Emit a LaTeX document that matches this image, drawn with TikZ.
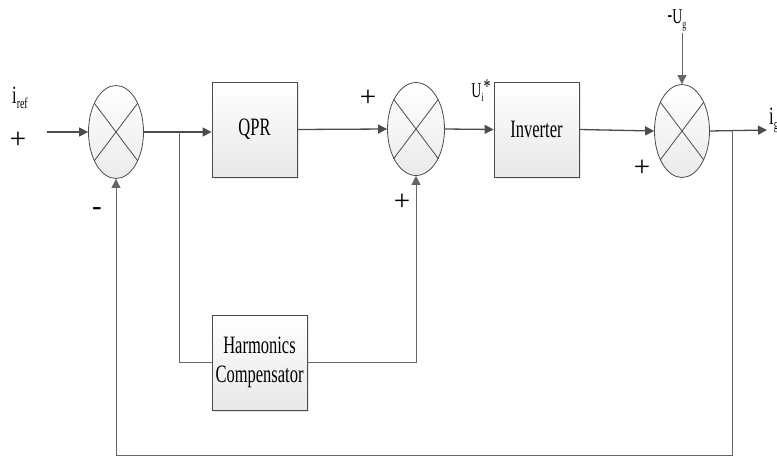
\documentclass[tikz,border=0pt]{standalone}
\usepackage{fontspec}
\setmainfont{Liberation Serif}
\usepackage{graphicx}
\usetikzlibrary{arrows.meta,shapes.geometric,shadows}
\newcommand\nrw[1]{\scalebox{0.66}[1]{#1}}
\begin{document}
\begin{tikzpicture}[x=1pt,y=-1pt,
  line/.style={draw=black!70, line width=1.3pt},
  arr/.style={line, -{Triangle[length=9pt,width=9pt]}},
  thinline/.style={draw=black!60, line width=0.9pt},
  thinarr/.style={thinline, -{Triangle[length=9pt,width=9pt]}},
  sumnode/.style={ellipse, draw=black!70, line width=0.8pt, top color=white, bottom color=black!8, inner sep=0pt, minimum width=55pt, minimum height=93pt},
  blk/.style={rectangle, draw=black!70, line width=0.8pt, top color=white, bottom color=black!9, drop shadow={shadow xshift=2pt, shadow yshift=-2pt, opacity=0.2}, inner sep=0pt, font=\fontsize{25}{31}\selectfont, align=center},
  lbl/.style={inner sep=0pt, font=\fontsize{25}{28}\selectfont},
  sgn/.style={inner sep=0pt, font=\fontsize{29}{30}\selectfont}]
\useasboundingbox (0,0) rectangle (777,458);
\clip (0,0) rectangle (777,458);

% summing junctions
\node[sumnode] (s1) at (116,132) {};
\node[sumnode, minimum width=57pt] (s2) at (416,129) {};
\node[sumnode] (s3) at (682,131) {};
\foreach \s in {s1,s2,s3}{
  \draw[draw=black!70, line width=0.8pt] (\s.53) -- (\s.233);
  \draw[draw=black!70, line width=0.8pt] (\s.127) -- (\s.307);
}

% blocks
\node[blk, minimum width=85pt, minimum height=95pt] (qpr) at (254.5,129.5) {\nrw{QPR}};
\node[blk, minimum width=85pt, minimum height=95pt] (inv) at (536.5,129.5) {\nrw{Inverter}};
\node[blk, minimum width=95pt, minimum height=95pt] (harm) at (259.5,362.5) {\nrw{Harmonics}\\[-2pt]\nrw{Compensator}};

% coordinates
\coordinate (in) at (47,132);
\coordinate (b1) at (179,132);
\coordinate (ug) at (682,33);
\coordinate (out) at (767,130);
\coordinate (b2) at (732,130);
\coordinate (fbR) at (732,455);
\coordinate (fbL) at (116,455);

% connectors
\draw[arr] (in) -- (s1.west);
\draw[arr] (s1.east) -- (s1.east -| qpr.west);
\draw[thinline] (b1) |- (harm.west);
\draw[thinarr] (harm.east) -| (s2.south);
\draw[arr] (qpr.east) -- (s2.west);
\draw[arr] (s2.east) -- (inv.west);
\draw[arr] (inv.east) -- (s3.west);
\draw[thinarr] (ug) -- (s3.north);
\draw[arr] (s3.east) -- (out);
\draw[thinline] (b2) -- (fbR) -- (fbL);
\draw[thinarr] (fbL) -- (s1.south);

% labels
\node[lbl] (iref) at (20,98) {\nrw{i\raisebox{-5pt}{\fontsize{15}{15}\selectfont ref}}};
\node[sgn] (p1) at (18,140) {+};
\node[sgn] (m1) at (97,212) {-};
\node[sgn] (p2) at (368,98) {+};
\node[sgn] (p3) at (402,202) {+};
\node[lbl, font=\fontsize{21}{24}\selectfont] (ui) at (481,91) {\nrw{U\raisebox{-4pt}{\fontsize{12}{12}\selectfont i}\raisebox{4pt}{*}}};
\node[lbl, font=\fontsize{21}{24}\selectfont] (ugl) at (677,20) {\nrw{\raisebox{2pt}{\textbf{-}}U\raisebox{-5pt}{\fontsize{12}{12}\selectfont g}}};
\node[sgn] (p4) at (642,168) {+};
\node[lbl, anchor=west] (ig) at (769,120) {\nrw{i\raisebox{-5pt}{\fontsize{15}{15}\selectfont g}}};
\end{tikzpicture}
\end{document}
